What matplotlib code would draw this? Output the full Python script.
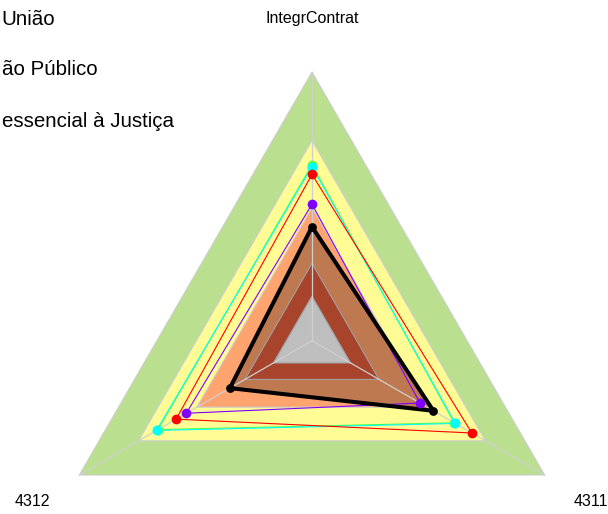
import numpy as np
import matplotlib.pyplot as plt
from matplotlib.patches import Polygon

plt.rcParams['font.family'] = ['Liberation Sans', 'DejaVu Sans']

# eixos do radar (sentido horario a partir do topo)
eixos = ['IntegrContrat', '4311', '4312']
angulos = np.deg2rad([90, -30, 210])

# faixas de fundo (raio normalizado) e cores
faixas = [1.0, 0.745, 0.495]
cores_faixas = ['#B9DF8F', '#FFFC96', '#FFA36F']
faixas_centro = [0.288, 0.166]
cores_centro = ['#A8432C', '#BEBEBE']

# series
serie_preta = [0.424, 0.522, 0.353]
serie_roxa = [0.508, 0.464, 0.540]
serie_vermelha = [0.619, 0.687, 0.584]
serie_ciano = [0.648, 0.616, 0.668]
serie_verde = [0.655, 0.611, 0.662]

# parte visivel da legenda (cortada na borda esquerda no original)
legenda = ['União', 'ão Público', 'essencial à Justiça']
legenda_base_px = [25, 75, 127]


def pontos(valores):
    r = np.asarray(valores, dtype=float)
    return np.column_stack([r * np.cos(angulos), r * np.sin(angulos)])


fig = plt.figure(figsize=(6.08, 5.14), dpi=100)
ax = fig.add_axes([0, 0, 1, 1])
ax.set_xlim(-1.1611, 1.1016)
ax.set_ylim(-0.645, 1.268)
ax.axis('off')

grade = '#CFCFCF'
for r, c in zip(faixas, cores_faixas):
    ax.add_patch(Polygon(pontos([r] * 3), closed=True, facecolor=c,
                         edgecolor=grade, lw=0.8, zorder=1))

# preenchimento da serie preta
ax.add_patch(Polygon(pontos(serie_preta), closed=True, facecolor='#BF7950',
                     edgecolor='none', zorder=2))

for r, c in zip(faixas_centro, cores_centro):
    ax.add_patch(Polygon(pontos([r] * 3), closed=True, facecolor=c,
                         edgecolor='#A0A0A0', lw=0.8, zorder=3))

# raios
for a in angulos:
    ax.plot([0, np.cos(a)], [0, np.sin(a)], color=grade, lw=0.9, zorder=4)

series = [
    (serie_verde, '#55FF33', 0.8, 7.0),
    (serie_ciano, '#00FFFF', 0.8, 7.2),
    (serie_vermelha, '#FF0000', 0.8, 7.0),
    (serie_roxa, '#8000FF', 0.8, 7.0),
    (serie_preta, '#000000', 2.9, 6.3),
]
for vals, cor, lw, ms in series:
    p = pontos(vals)
    p = np.vstack([p, p[:1]])
    ax.plot(p[:, 0], p[:, 1], color=cor, lw=lw, zorder=5)
    ax.plot(p[:-1, 0], p[:-1, 1], 'o', color=cor, ms=ms, mec='none', zorder=6)

for nome, a in zip(eixos, angulos):
    ax.text(1.2 * np.cos(a), 1.2 * np.sin(a), nome, ha='center', va='center',
            fontsize=11.5)

for txt, y in zip(legenda, legenda_base_px):
    fig.text(1.5 / 608, 1 - y / 514, txt, ha='left', va='baseline', fontsize=14.8)

fig.savefig('out.png', dpi=100)
plt.close(fig)
